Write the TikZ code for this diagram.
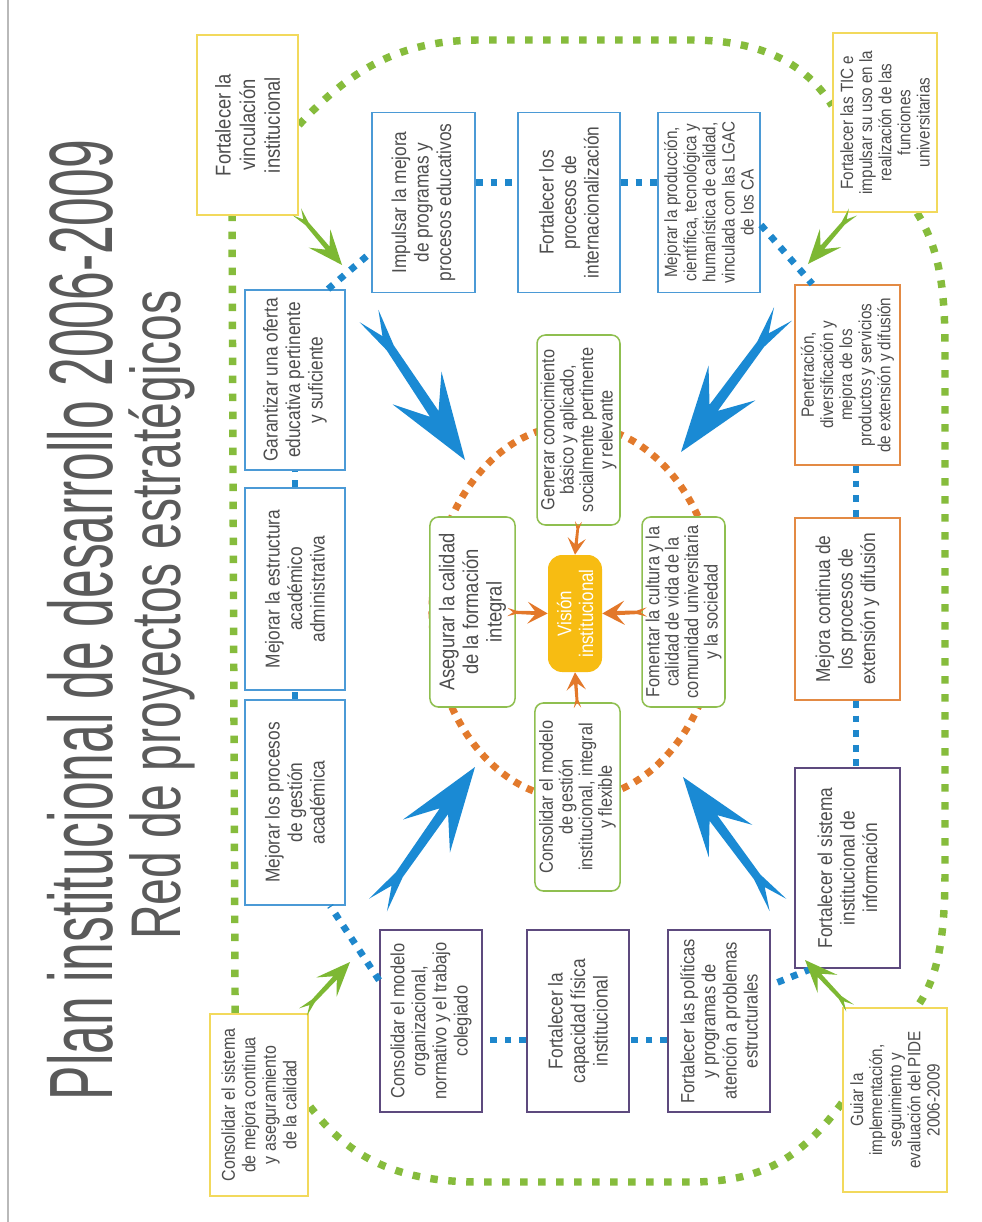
\documentclass[tikz,border=0pt]{standalone}
\usepackage{fontspec}
\usepackage{graphicx}
\setmainfont{Liberation Sans}
\newfontfamily\boxfont[FakeStretch=0.86]{Liberation Sans}
\usetikzlibrary{calc}

\definecolor{txt}{HTML}{4D4D4D}
\definecolor{ttl}{HTML}{5A5A5A}
\definecolor{cyellow}{HTML}{F2D95C}
\definecolor{cblue}{HTML}{4B9AD6}
\definecolor{corange}{HTML}{E38A44}
\definecolor{cpurple}{HTML}{5D4A7E}
\definecolor{cgreen}{HTML}{8FBF50}
\definecolor{cgold}{HTML}{F7BC12}
\definecolor{dgreen}{HTML}{86BC3C}
\definecolor{dblue}{HTML}{1E87CC}
\definecolor{dorange}{HTML}{E27A2C}
\definecolor{ablue}{HTML}{1A8AD4}
\definecolor{agreen}{HTML}{7DB833}
\definecolor{aorange}{HTML}{E3782A}

% vertical (bottom-to-top) centred text block
\newcommand\vtext[2]{\rotatebox{90}{\parbox{#1}{\centering #2}}}
\newcommand\fs[2]{\boxfont\fontsize{#1}{#2}\selectfont}

% feathered arrow: forked tail, thin shaft, long barbed head
% #1 colour, #2 tail coordinate, #3 tip coordinate, #4 width factor
\newcommand\fletch[4]{%
  \pgfmathsetmacro\flPa{0.065*#4}%
  \pgfmathsetmacro\flSf{sqrt(0.22^2+(0.025*#4)^2)}%
  \pgfmathsetmacro\flSa{atan(0.025*#4/0.22)}%
  \pgfmathsetmacro\flNf{sqrt(0.68^2+(0.03*#4)^2)}%
  \pgfmathsetmacro\flNa{atan(0.03*#4/0.68)}%
  \pgfmathsetmacro\flBf{sqrt(0.5^2+(0.17*#4)^2)}%
  \pgfmathsetmacro\flBa{atan(0.17*#4/0.5)}%
  \fill[#1] ($(#2)!\flPa!90:(#3)$) -- ($(#2)!\flSf!\flSa:(#3)$)
    -- ($(#2)!\flNf!\flNa:(#3)$) -- ($(#2)!\flBf!\flBa:(#3)$) -- (#3)
    -- ($(#2)!\flBf!-\flBa:(#3)$) -- ($(#2)!\flNf!-\flNa:(#3)$)
    -- ($(#2)!\flSf!-\flSa:(#3)$) -- ($(#2)!\flPa!-90:(#3)$)
    -- ($(#2)!0.14!(#3)$) -- cycle;}

\tikzset{
  box/.style={draw, fill=white, line width=1.3pt, inner sep=0pt, text=txt},
  ybox/.style={box, draw=cyellow},
  bbox/.style={box, draw=cblue},
  obox/.style={box, draw=corange},
  pbox/.style={box, draw=cpurple},
  gbox/.style={box, draw=cgreen, line width=1.1pt, rounded corners=6pt},
  visbox/.style={fill=cgold, rounded corners=10pt, inner sep=0pt, text=white},
  gdots/.style={draw=dgreen, line width=5.3pt, dash pattern=on 5.3pt off 7.5pt},
  bdots/.style={draw=dblue, line width=4.8pt, dash pattern=on 4.8pt off 5.6pt},
  odots/.style={draw=dorange, line width=5pt, dash pattern=on 5pt off 5pt},
}

\begin{document}
\begin{tikzpicture}[x=0.025cm, y=-0.025cm]
\useasboundingbox (0,0) rectangle (981,1222);
\fill[white] (0,0) rectangle (981,1222);
\draw[gray!55, line width=1.5pt] (8,0) -- (8,1222);

% titles
\node[rotate=90, anchor=base, inner sep=0pt, text=ttl] (title) at (112,620)
  {\resizebox{683pt}{\height}{\fontsize{64pt}{64pt}\selectfont Plan institucional de desarrollo 2006-2009}};
\node[rotate=90, anchor=base, inner sep=0pt, text=ttl] (subtitle) at (180,615)
  {\resizebox{462pt}{\height}{\fontsize{50pt}{50pt}\selectfont Red de proyectos estratégicos}};

% inner orange ring
\draw[odots] (575,612) ellipse [x radius=101.7pt, y radius=133pt];

% ---- corner projects
\node[ybox, minimum width=71.8pt, minimum height=128pt, font={\fs{15.2pt}{17.5pt}}] (vinc) at (247.5,125)
  {\vtext{120pt}{Fortalecer la\\ vinculación\\ institucional}};
\node[ybox, minimum width=74pt, minimum height=127.3pt, font={\fs{12.6pt}{13.6pt}}] (tic) at (885,122.5)
  {\vtext{122pt}{Fortalecer las TIC e\\ impulsar su uso en la\\ realización de las\\ funciones\\ universitarias}};
\node[ybox, minimum width=69.7pt, minimum height=129.5pt, font={\fs{13.2pt}{14.6pt}}] (cons) at (259,1105)
  {\vtext{124pt}{Consolidar el sistema\\ de mejora continua\\ y aseguramiento\\ de la calidad}};
\node[ybox, minimum width=74pt, minimum height=130.9pt, font={\fs{12.6pt}{13.6pt}}] (guiar) at (895,1100)
  {\vtext{124pt}{Guiar la\\ implementación,\\ seguimiento y\\ evaluación del PIDE\\ 2006-2009}};

% ---- outer green ring between the corner projects
\draw[gdots] (vinc.east) .. controls (350,70) and (400,40) .. (480,40) -- (690,40)
  .. controls (770,40) and (810,70) .. ([yshift=12pt]tic.west);
\draw[gdots] ([xshift=22.8pt]tic.south) .. controls (940,250) and (945,290) .. (945,350)
  -- (945,870) .. controls (945,930) and (940,975) .. ([xshift=15.6pt]guiar.north);
\draw[gdots] ([yshift=-2pt]guiar.west) .. controls (800,1160) and (760,1182) .. (690,1182)
  -- (480,1182) .. controls (400,1182) and (350,1160) .. (cons.east);
\draw[gdots] ([xshift=-17pt]cons.north) -- ([xshift=-11pt]vinc.south);
% corner boxes again, over the ring
\node[ybox, minimum width=71.8pt, minimum height=128pt, font={\fs{15.2pt}{17.5pt}}] at (vinc)
  {\vtext{120pt}{Fortalecer la\\ vinculación\\ institucional}};
\node[ybox, minimum width=74pt, minimum height=127.3pt, font={\fs{12.6pt}{13.6pt}}] at (tic)
  {\vtext{122pt}{Fortalecer las TIC e\\ impulsar su uso en la\\ realización de las\\ funciones\\ universitarias}};
\node[ybox, minimum width=69.7pt, minimum height=129.5pt, font={\fs{13.2pt}{14.6pt}}] at (cons)
  {\vtext{124pt}{Consolidar el sistema\\ de mejora continua\\ y aseguramiento\\ de la calidad}};
\node[ybox, minimum width=74pt, minimum height=130.9pt, font={\fs{12.6pt}{13.6pt}}] at (guiar)
  {\vtext{124pt}{Guiar la\\ implementación,\\ seguimiento y\\ evaluación del PIDE\\ 2006-2009}};

% ---- blue ring of projects
\node[bbox, minimum width=73.3pt, minimum height=128pt, font={\fs{14.3pt}{16pt}}] (impulsar) at (423.5,202.5)
  {\vtext{124pt}{Impulsar la mejora\\ de programas y\\ procesos educativos}};
\node[bbox, minimum width=72.6pt, minimum height=128pt, font={\fs{14.3pt}{16pt}}] (internac) at (569,202.5)
  {\vtext{124pt}{Fortalecer los\\ procesos de\\ internacionalización}};
\node[bbox, minimum width=72.6pt, minimum height=128pt, font={\fs{12.6pt}{13.6pt}}] (produccion) at (709,202.5)
  {\vtext{124pt}{Mejorar la producción,\\ científica, tecnológica y\\ humanística de calidad,\\ vinculada con las LGAC\\ de los CA}};
\node[bbox, minimum width=71.1pt, minimum height=128pt, font={\fs{14.3pt}{16pt}}] (garantizar) at (295,380)
  {\vtext{124pt}{Garantizar una oferta\\ educativa pertinente\\ y suficiente}};
\node[bbox, minimum width=71.1pt, minimum height=143.7pt, font={\fs{14.3pt}{16pt}}] (estructura) at (295,589)
  {\vtext{132pt}{Mejorar la estructura\\ académico\\ administrativa}};
\node[bbox, minimum width=71.1pt, minimum height=145.8pt, font={\fs{14.3pt}{16pt}}] (procesos) at (295,802.5)
  {\vtext{132pt}{Mejorar los procesos\\ de gestión\\ académica}};
\node[obox, minimum width=74.7pt, minimum height=128pt, font={\fs{12.6pt}{13.6pt}}] (penetracion) at (847.5,375)
  {\vtext{124pt}{Penetración,\\ diversificación y\\ mejora de los\\ productos y servicios\\ de extensión y difusión}};
\node[obox, minimum width=74.7pt, minimum height=129.5pt, font={\fs{14.3pt}{16pt}}] (mejora) at (847.5,609)
  {\vtext{124pt}{Mejora continua de\\ los procesos de\\ extensión y difusión}};
\node[pbox, minimum width=74.7pt, minimum height=142.3pt, font={\fs{14.3pt}{16pt}}] (sistema) at (847.5,868)
  {\vtext{132pt}{Fortalecer el sistema\\ institucional de\\ información}};
\node[pbox, minimum width=72.6pt, minimum height=129.5pt, font={\fs{13.6pt}{15pt}}] (colegiado) at (431,1021)
  {\vtext{126pt}{Consolidar el modelo\\ organizacional,\\ normativo y el trabajo\\ colegiado}};
\node[pbox, minimum width=72.6pt, minimum height=129.5pt, font={\fs{14.3pt}{16pt}}] (fisica) at (578,1021)
  {\vtext{126pt}{Fortalecer la\\ capacidad física\\ institucional}};
\node[pbox, minimum width=72.6pt, minimum height=129.5pt, font={\fs{13.6pt}{15pt}}] (politicas) at (719,1021)
  {\vtext{127pt}{Fortalecer las políticas\\ y programas de\\ atención a problemas\\ estructurales}};

% dotted blue links around the ring
\draw[bdots] ([xshift=23.5pt]garantizar.north) -- ([yshift=-35.5pt]impulsar.west);
\draw[bdots] ([yshift=14pt]impulsar.east) -- ([yshift=14pt]internac.west);
\draw[bdots] ([yshift=14pt]internac.east) -- ([yshift=14pt]produccion.west);
\draw[bdots] ([yshift=-16pt]produccion.east) -- ([xshift=-25pt]penetracion.north);
\draw[bdots] ([xshift=6pt]penetracion.south) -- ([xshift=6pt]mejora.north);
\draw[bdots] ([xshift=6pt]mejora.south) -- ([xshift=6pt]sistema.north);
\draw[bdots] ([xshift=-26pt]sistema.south) -- ([yshift=25.6pt]politicas.east);
\draw[bdots] ([yshift=-13.5pt]politicas.west) -- ([yshift=-13.5pt]fisica.east);
\draw[bdots] ([yshift=-13.5pt]fisica.west) -- ([yshift=-13.5pt]colegiado.east);
\draw[bdots] ([yshift=29pt]colegiado.west) -- ([xshift=25pt]procesos.south);
\draw[bdots] (procesos.north) -- (estructura.south);
\draw[bdots] (estructura.north) -- (garantizar.south);

% ---- inner objectives
\node[gbox, minimum width=59pt, minimum height=135.1pt, font={\fs{13.5pt}{13.8pt}}] (generar) at (578.5,430)
  {\vtext{132pt}{Generar conocimiento\\ básico y aplicado,\\ socialmente pertinente\\ y relevante}};
\node[gbox, minimum width=60.5pt, minimum height=135.1pt, font={\fs{15.2pt}{16.8pt}}] (asegurar) at (472.5,612)
  {\vtext{130pt}{Asegurar la calidad\\ de la formación\\ integral}};
\node[gbox, minimum width=59pt, minimum height=135.1pt, font={\fs{13.5pt}{13.8pt}}] (fomentar) at (683.5,612)
  {\vtext{132pt}{Fomentar la cultura y la\\ calidad de vida de la\\ comunidad universitaria\\ y la sociedad}};
\node[gbox, minimum width=60.5pt, minimum height=133.7pt, font={\fs{13.5pt}{14pt}}] (gestion) at (577.5,797)
  {\vtext{130pt}{Consolidar el modelo\\ de gestión\\ institucional, integral\\ y flexible}};
\node[visbox, minimum width=38.4pt, minimum height=83.2pt, font={\fs{14pt}{15.5pt}}] (vision) at (575,613.5)
  {\vtext{80pt}{Visión\\ institucional}};

% ---- orange arrows towards the vision
\coordinate (oaT) at ([xshift=-6pt]asegurar.east);
\coordinate (obT) at ([yshift=3pt]generar.south);
\coordinate (ocT) at ([xshift=4pt]fomentar.west);
\coordinate (odT) at ([yshift=-4pt]gestion.north);
\fletch{aorange}{oaT}{vision.west}{1.6}
\fletch{aorange}{obT}{vision.north}{1.6}
\fletch{aorange}{ocT}{vision.east}{1.6}
\fletch{aorange}{odT}{vision.south}{1.6}

% ---- blue arrows towards the inner ring
\coordinate (buT) at (369,316); \coordinate (buH) at (465,460);
\coordinate (bvT) at (783,314); \coordinate (bvH) at (681,452);
\coordinate (blT) at (378,905); \coordinate (blH) at (475,767);
\coordinate (brT) at (778,905); \coordinate (brH) at (683,777);
\fletch{ablue}{buT}{buH}{1}
\fletch{ablue}{bvT}{bvH}{1}
\fletch{ablue}{blT}{blH}{1}
\fletch{ablue}{brT}{brH}{1}

% ---- green arrows from the corner projects
\coordinate (gaT) at (297,212); \coordinate (gaH) at (342,265);
\coordinate (gbT) at (853,212); \coordinate (gbH) at (808,264);
\coordinate (gcT) at (303,1012); \coordinate (gcH) at (350,962);
\coordinate (gdT) at (850,1008); \coordinate (gdH) at (805,960);
\fletch{agreen}{gaT}{gaH}{1.2}
\fletch{agreen}{gbT}{gbH}{1.2}
\fletch{agreen}{gcT}{gcH}{1.2}
\fletch{agreen}{gdT}{gdH}{1.2}
\end{tikzpicture}
\end{document}
